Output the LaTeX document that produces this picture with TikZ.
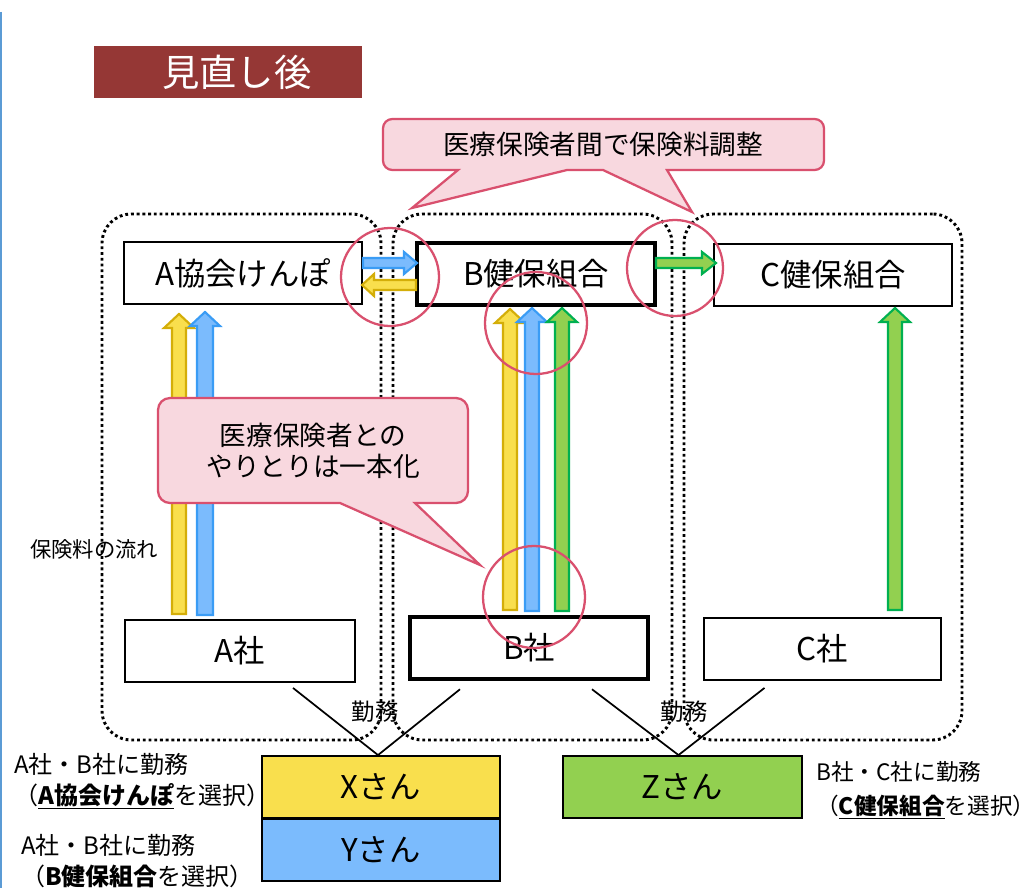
\documentclass[tikz,border=0pt]{standalone}
\usepackage{fontspec}
\setmainfont{Noto Sans CJK JP}
\usetikzlibrary{calc}
\definecolor{titlered}{HTML}{953735}
\definecolor{yfill}{HTML}{F9DF4D}
\definecolor{ydraw}{HTML}{D4AE08}
\definecolor{bfill}{HTML}{7BBBFD}
\definecolor{bdraw}{HTML}{3A9CF5}
\definecolor{gfill}{HTML}{92D050}
\definecolor{gdraw}{HTML}{00B050}
\definecolor{pinkfill}{HTML}{F8D8DF}
\definecolor{pinkdraw}{HTML}{D9506E}
\definecolor{edgeblue}{HTML}{5B9BD5}
% vertical block arrow: x, ybottom, ytip, shaft half width, fill, draw
\newcommand\uparw[6]{%
  \filldraw[fill=#5,draw=#6,line width=1.6pt,line join=miter]
  (#1-#4,#2) -- (#1-#4,#3+14) -- (#1-15,#3+14) -- (#1,#3) -- (#1+15,#3+14)
  -- (#1+#4,#3+14) -- (#1+#4,#2) -- cycle;}
% horizontal block arrow: xstart, xheadbase, xtip, y, fill, draw
\newcommand\hzarw[6]{%
  \filldraw[fill=#5,draw=#6,line width=1.6pt,line join=miter]
  (#1,#4-5) -- (#2,#4-5) -- (#2,#4-11) -- (#3,#4) -- (#2,#4+11)
  -- (#2,#4+5) -- (#1,#4+5) -- cycle;}
\begin{document}
\begin{tikzpicture}[x=0.75pt,y=-0.75pt,
  box/.style={draw=black,line width=1.4pt,fill=white,minimum width=178.5pt,
    minimum height=46.5pt,inner sep=0pt,font=\fontsize{23.5}{28}\selectfont},
  boxb/.style={box,line width=3.4pt},
  grp/.style={draw=black,line width=2.2pt,dash pattern=on 2.1pt off 2.2pt,
    rounded corners=22pt,inner sep=0pt},
  conn/.style={draw=black,line width=1.3pt},
  ring/.style={circle,draw=pinkdraw,line width=1.7pt,minimum size=74pt,inner sep=0pt},
  callout/.style={fill=pinkfill,draw=pinkdraw,line width=1.7pt,line join=miter},
  ctext/.style={font=\fontsize{20}{23.5}\selectfont,align=center,inner sep=0pt},
  side/.style={font=\fontsize{18}{23.25}\selectfont,align=left,inner sep=0pt,anchor=west},
  kinmu/.style={font=\fontsize{17.5}{21}\selectfont,inner sep=0pt},
]
\useasboundingbox (0,0) rectangle (1035,888);
\fill[white] (0,0) rectangle (1035,888);
\draw[edgeblue,line width=1.5pt] (1,12) -- (1,888);

% title
\node[fill=titlered,text=white,minimum width=201pt,minimum height=39pt,inner sep=0pt,
  font=\fontsize{28}{32}\selectfont] (ttl) at (228,72) {\hspace*{13pt}見直し後};

% groups
\node[grp,minimum width=209.25pt,minimum height=394.5pt] (ga) at (241.5,477) {};
\node[grp,minimum width=209.25pt,minimum height=394.5pt] (gb) at (532.5,477) {};
\node[grp,minimum width=208.5pt,minimum height=394.5pt] (gc) at (823,477) {};

% boxes
\node[box] (anb) at (243,273) {A協会けんぽ};
\node[boxb] (bkp) at (536,274) {B健保組合};
\node[box] (ckp) at (833,275) {C健保組合};
\node[box,minimum width=172.5pt] (asha) at (240,651) {A社};
\node[boxb] (bsha) at (529,648) {B社};
\node[box,minimum width=177.75pt] (csha) at (822.5,649) {C社};
\node[box,fill=yfill] (xsan) at (381,787) {Xさん};
\node[box,fill=bfill] (ysan) at (381,850) {Yさん};
\node[box,fill=gfill,minimum width=179.25pt] (zsan) at (682.5,787) {Zさん};

% connectors
\draw[conn] ($(asha.south)+(53,5)$) -- ($(xsan.north)+(-3,0)$);
\draw[conn] ($(bsha.south)+(-69,8)$) -- ($(xsan.north)+(-3,0)$);
\draw[conn] ($(bsha.south)+(63,8)$) -- ($(zsan.north)+(-4,0)$);
\draw[conn] ($(csha.south)+(-58,7)$) -- ($(zsan.north)+(-4,0)$);
\node[kinmu] (k1) at (375,712) {勤務};
\node[kinmu] (k2) at (684,712) {勤務};

% vertical arrows
\uparw{179}{614}{314}{7}{yfill}{ydraw}
\uparw{205}{615}{312}{8}{bfill}{bdraw}
\uparw{510}{610}{309}{7}{yfill}{ydraw}
\uparw{532}{611}{308}{7}{bfill}{bdraw}
\uparw{562}{611}{308}{7}{gfill}{gdraw}
\uparw{895}{610}{308}{7}{gfill}{gdraw}
% horizontal arrows
\hzarw{363}{404}{417}{263}{bfill}{bdraw}
\hzarw{416}{374}{362}{285}{yfill}{ydraw}
\hzarw{656}{702}{716}{263}{gfill}{gdraw}

% rings
\node[ring,minimum size=73.5pt] (r1) at (390,277) {};
\node[ring,minimum size=76.5pt] (r2) at (536,323) {};
\node[ring,minimum size=72pt] (r3) at (675,268) {};
\node[ring,minimum size=76.5pt] (r4) at (534,597) {};

% callout 1
\filldraw[callout] (458,170) -- (412,208) -- (567,170) -- (603,170) -- (692,212)
  -- (667,170) -- (700,170) [rounded corners=7pt] -- (824,170) -- (824,119)
  -- (383,119) -- (383,170) -- (420,170) [sharp corners] -- cycle;
\node[ctext] (t1) at (603,144) {医療保険者間で保険料調整};

% callout 2
\filldraw[callout] (340,503) -- (480,565) -- (415,503) -- (440,503)
  [rounded corners=9pt] -- (468,503) -- (468,398) -- (158,398) -- (158,503)
  -- (300,503) [sharp corners] -- cycle;
\node[ctext] (t2) at (313,451) {医療保険者との\\やりとりは一本化};

% side labels
\node[side,font=\fontsize{16}{18}\selectfont] (flow) at (30,549) {保険料の流れ};
\node[side] (lx) at (14,781) {A社・B社に勤務\\（\underline{\textbf{A協会けんぽ}}を選択）};
\node[side] (ly) at (21,861) {A社・B社に勤務\\（\textbf{B健保組合}を選択）};
\node[side,font=\fontsize{17}{25.5}\selectfont] (lz) at (816,790) {B社・C社に勤務\\（\underline{\textbf{C健保組合}}を選択）};
\end{tikzpicture}
\end{document}
